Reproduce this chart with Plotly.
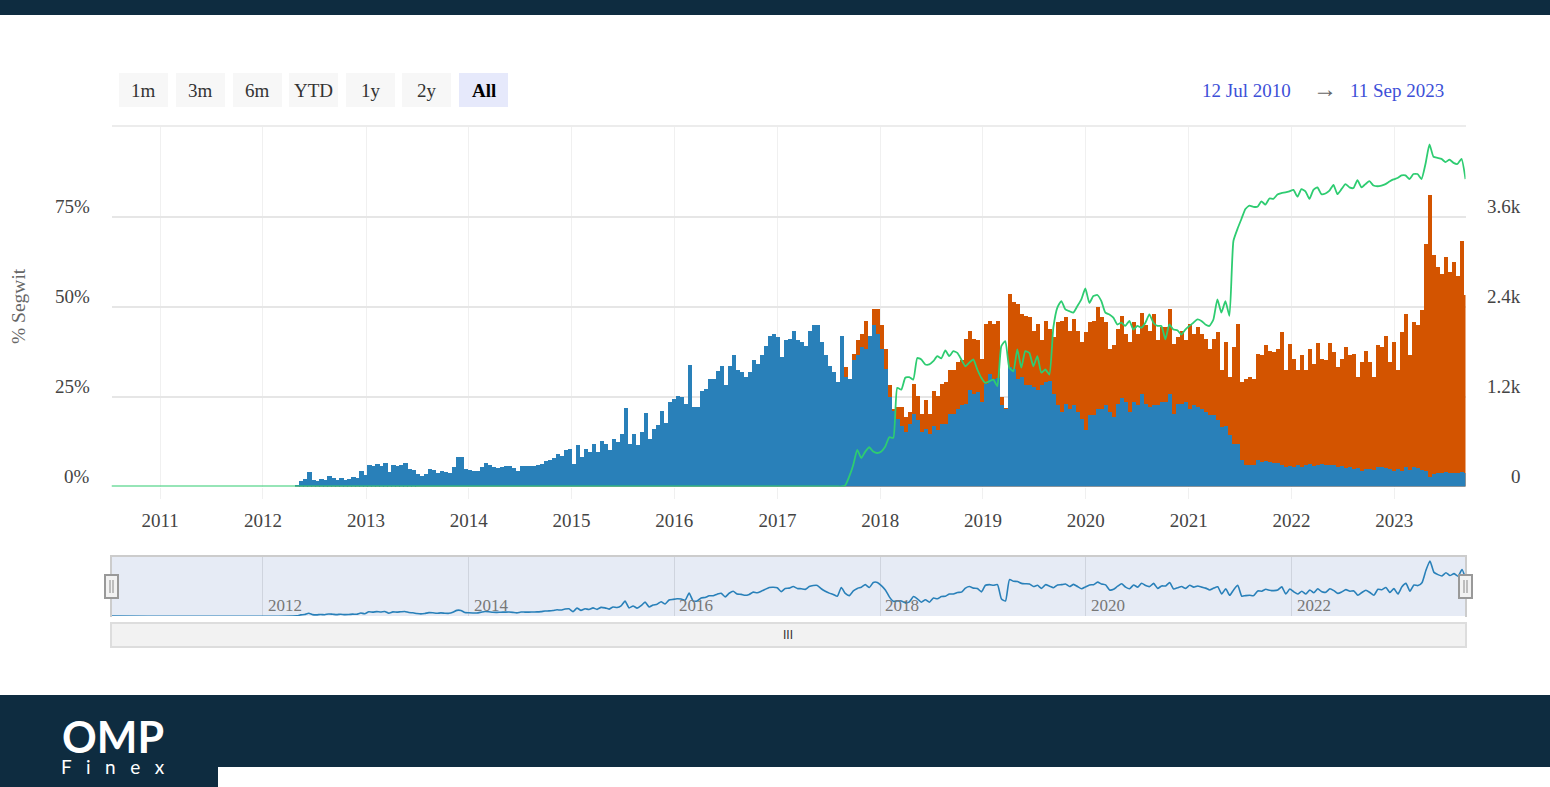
import pandas as pd
import plotly.graph_objects as go

W, H = 1550, 787
def px(v): return v / W
def py(v): return 1 - v / H

# transaction counts per two-week bucket
segwit_early = [15,80,105,195,95,80,110,90,145,125,100,125,95,105,130,125,210,160,300,275,310,285,315,200,290,275,300,320,245,225,180,150,180,240,225,190,220,200,190,265,400,395,245,225,215,215,265,320,300,265,255,270,275,285,255,220,285,275,275,285,290,310,350,360,385,440,420,490,510,310,555,400,510,465,575,470,610,575,490,640,600,710,1060,570,710,560,730,985,640,780,830,1010,850,1130,1180]
legacy_2016 = [1220,1200,1110,1630,1065,1065,1280,1310,1435,1435,1545,1610,1355,1610,1755,1555,1530,1465,1530,1690,1645,1755,1885,2020,2040,2000,1730,1955,1975,2085,1955,1930,1885,2085,2155,2165,1930,1755,1620,1530,1400,2020]
blue_2017 = [1465,1435,1690,1755,1865,1845,2020,2155,2040,1845,1575,1200,1020,910,820,730,845,975,890,730,775,710,820,755]
total_2017 = [1600,1445,1775,1955,2040,2220,2020,2375,2375,2155,1845,1355,1040,1065,1065,930,1000,1375,1220,975,1155,975,1275,1220]
blue_2018 = [845,845,975,975,1045,1090,1110,1290,1245,1265,1140,1375,1510,1445,1450,1090,1045,1600,1575,1445,1465,1355,1355,1330,1300,1355,1400,1420,1245,1090,1000,1110,1045,1090,1000,910,755,955,955,1045,1045,1090,1000,930,1110,1185,1130,1000,1130,1090,1245,1110,1065,1090,1090,1130,1130,1245,975,1110,1110,1130,1045,1090,1065,1045,1000]
total_2018 = [1375,1400,1555,1555,1665,1690,1975,2085,1975,1955,1710,2175,2220,2175,2220,1200,1060,2575,2465,2440,2310,2285,2265,2085,2175,1955,2220,2110,2000,2200,2220,2265,2085,2240,2085,1930,2065,2200,2220,2400,2265,2200,1845,1890,2110,2285,2045,1930,2200,2045,2325,2155,2085,2310,1955,2130,2130,2370,1910,2000,2085,1955,2175,2045,2130,2045,1975]
blue_2021 = [955,955,890,800,820,690,575,575,355,300,300,300,355,335,350,335,325,325,300,265,275,270,290,265,290,310,285,300,310,295,300,300,265,285,260,270,245,250,220,235,245,225,265,270,250,235,220,245,220,265,225,265,250,230,220,135,175,190,185,195,190,185,190,195,190]
total_2021 = [1845,1975,2065,1555,1930,1465,1865,2175,1400,1445,1465,1445,1775,1755,1890,1820,1800,1845,2065,1555,1910,1710,1555,1755,1555,1845,1645,1925,1710,1690,1925,1800,1600,1710,1865,1755,1775,1465,1665,1820,1665,1465,1890,1865,2020,1665,1940,1555,2065,2310,1755,2200,2155,2355,3240,3900,3090,2930,2840,3065,2865,3000,2820,3285,2555]

# share of segwit, percent
pct_2017 = [0.3,2.8,6.0,10.2,7.9,9.7,10.9,9.7,9.3,9.7,11.1,13.7,13.5,27.4,26.9,30.2,30.4,29.7,35.7,35.3,33.9,33.9,34.8,36.2]
pct_2018 = [35.6,37.8,36.2,37.6,37.1,35.3,33.4,34.4,35.3,32.5,30.2,28.8,29.2,29.7,27.9,39.0,40.4,33.0,32.0,38.1,33.0,37.6,37.1,33.4,36.2,31.6,32.5,31.1,44.1,49.7,51.5,49.2,48.7,48.3,50.1,52.0,55.0,51.0,52.9,53.2,51.5,48.3,47.8,46.9,45.0,45.5,44.6,46.0,43.6,44.6,44.1,45.5,47.8,45.5,44.6,44.6,40.9,45.0,43.6,43.4,42.2,43.6,44.6,45.5,46.4,46.0,45.0]
pct_2021 = [44.6,46.4,52.0,48.3,51.5,47.4,68.2,71.5,74.3,77.1,78.0,77.7,77.7,79.2,78.3,80.0,79.9,81.1,81.5,81.7,82.0,82.4,80.5,82.6,82.0,79.9,82.4,83.1,81.2,81.4,82.2,83.8,81.2,82.6,84.0,83.1,82.9,85.1,83.1,84.0,84.8,83.6,83.4,83.6,84.0,84.7,85.3,85.7,86.4,86.4,85.4,86.8,86.8,85.4,89.6,95.0,91.6,91.3,91.0,90.1,90.8,89.9,89.6,91.0,85.4]

range_start, range_end = "2010-07-12", "2023-09-11"
first_bucket = "2012-05-01"
left_ticks, left_labels = [0, 25, 50, 75], ["0%", "25%", "50%", "75%"]
right_ticks, right_labels = [0, 1200, 2400, 3600], ["0", "1.2k", "2.4k", "3.6k"]
nav_years = ["2012", "2014", "2016", "2018", "2020", "2022"]
buttons = ["1m", "3m", "6m", "YTD", "1y", "2y", "All"]

blue = segwit_early + legacy_2016 + blue_2017 + blue_2018 + blue_2021
early = segwit_early + legacy_2016
total = early + total_2017 + total_2018 + total_2021
pct = [0] * len(early) + pct_2017 + pct_2018 + pct_2021
assert len(blue) == len(total) == len(pct), (len(blue), len(total), len(pct))
dates = pd.date_range(first_bucket, range_end, periods=len(blue))
line_x = [pd.Timestamp(range_start)] + list(dates)

BLUE, ORANGE, GREEN, NAVY = "#2980b9", "#d35400", "#2ecc71", "#0e2c40"
SERIF = "Liberation Serif"
TXT = "#444444"
bar_w = 14.9 * 86400000

fig = go.Figure()
fig.add_bar(x=dates, y=total, width=bar_w, marker=dict(color=ORANGE, line_width=0), xaxis="x", yaxis="y", name="Non-segwit")
fig.add_bar(x=dates, y=blue, width=bar_w, marker=dict(color=BLUE, line_width=0), xaxis="x", yaxis="y", name="Segwit")
fig.add_scatter(x=line_x, y=[0] + pct, mode="lines", cliponaxis=False,
                line=dict(color=GREEN, width=1.8, shape="spline", smoothing=0.5), xaxis="x", yaxis="y2", name="% Segwit")
fig.add_scatter(x=line_x, y=[0] + total, mode="lines", cliponaxis=False,
                line=dict(color=BLUE, width=1.6, shape="spline", smoothing=0.5), xaxis="x2", yaxis="y3", name="Navigator")

shapes = []
def rect(x0, y0, x1, y1, fill, line=None, lw=0, layer="above"):
    shapes.append(dict(type="rect", xref="paper", yref="paper", x0=px(x0), x1=px(x1), y0=py(y0), y1=py(y1),
                       fillcolor=fill, line=dict(color=line or fill, width=lw), layer=layer))
def seg(x0, y0, x1, y1, color, lw=1, layer="above"):
    shapes.append(dict(type="line", xref="paper", yref="paper", x0=px(x0), x1=px(x1), y0=py(y0), y1=py(y1),
                       line=dict(color=color, width=lw), layer=layer))

rect(0, 0, W, 15, NAVY)
rect(0, 695, W, 767, NAVY)
rect(0, 767, 218, H, NAVY)
# top border of the plot area
seg(112, 126, 1466, 126, "#e6e6e6", 1.5, layer="below")
# navigator frame
rect(111, 556, 1466, 616, "#e6ebf5", layer="below")
seg(110, 556, 1467, 556, "#cccccc", 2)
seg(111, 555, 111, 617, "#cccccc", 2)
seg(1466, 555, 1466, 617, "#cccccc", 2)
# handles
for x0 in (105, 1459):
    rect(x0, 575, x0 + 13, 598, "#f2f2f2", "#999999", 2)
    seg(x0 + 5, 580, x0 + 5, 593, "#888888")
    seg(x0 + 8, 580, x0 + 8, 593, "#888888")
# scrollbar
rect(111, 623, 1466, 647, "#f2f2f2", "#dddddd", 2)

def note(x, y, text, size, color, font=SERIF, **kw):
    d = dict(x=px(x), y=py(y), xref="paper", yref="paper", text=text, showarrow=False,
             xanchor="center", yanchor="middle", font=dict(family=font, size=size, color=color))
    d.update(kw)
    return d

# range buttons
btn_x = [119, 176, 233, 289, 346, 402, 459]
ann = []
for b, x0 in zip(buttons, btn_x):
    active = b == "All"
    rect(x0, 73, x0 + 49, 107, "#e6e9fb" if active else "#f7f7f7")
    ann.append(note(x0 + 24.5, 90.5, f"<b>{b}</b>" if active else b, 19, "#000000" if active else "#333333"))

for t, l in zip(left_ticks, left_labels):
    ann.append(dict(x=px(92), xref="paper", y=t, yref="y2", yshift=10, text=l, xanchor="right", yanchor="middle",
                    showarrow=False, font=dict(family=SERIF, size=19, color=TXT)))
for t, l in zip(right_ticks, right_labels):
    ann.append(dict(x=px(1523), xref="paper", y=t, yref="y", yshift=10, text=l, xanchor="right", yanchor="middle",
                    showarrow=False, font=dict(family=SERIF, size=19, color=TXT)))
for y in nav_years:
    ann.append(dict(x=f"{y}-01-01", xref="x2", y=py(605), yref="paper", xshift=3, text=y, xanchor="left", yanchor="middle",
                    showarrow=False, font=dict(family=SERIF, size=17, color="#777777")))
ann += [
    note(18, 306, "% Segwit", 19.5, "#666666", textangle=-90),
    note(1246.5, 90, "12 Jul 2010", 19, "#3d50d8"),
    note(1325, 89, "→", 24, "#666666"),
    note(1397, 90, "11 Sep 2023", 19, "#3d50d8"),
    note(788, 635, "III", 12, "#333333", font="Liberation Sans"),
    note(113, 736, "<b>OMP</b>", 43, "#ffffff", font="Lato", height=38),
    note(113, 766, "F\u00a0\u00a0\u00a0i\u00a0\u00a0\u00a0n\u00a0\u00a0\u00a0e\u00a0\u00a0\u00a0x", 19, "#ffffff", font="Lato"),
]

fig.update_layout(
    width=W, height=H, autosize=False, margin=dict(l=0, r=0, t=0, b=0),
    paper_bgcolor="#ffffff", plot_bgcolor="rgba(0,0,0,0)", barmode="overlay", bargap=0, showlegend=False,
    shapes=shapes, annotations=ann,
    xaxis=dict(domain=[px(111.5), px(1465.5)], range=[range_start, range_end], type="date", anchor="y",
               dtick="M12", tick0="2011-01-01", tickformat="%Y", showgrid=True, gridcolor="#f0f0f0", gridwidth=1,
               ticks="outside", ticklen=11, tickcolor="#f0f0f0", ticklabelstandoff=6, showline=False, zeroline=False,
               tickfont=dict(family=SERIF, size=19, color=TXT)),
    yaxis=dict(domain=[py(486.5), py(126.5)], range=[0, 4800], anchor="x", side="right", tickvals=[0, 1200, 2400, 3600],
               showticklabels=False, ticks="", showgrid=True, gridcolor="#e6e6e6", gridwidth=1.5, zeroline=False),
    yaxis2=dict(range=[0, 100], overlaying="y", side="left", anchor="x", showticklabels=False, ticks="",
                showgrid=False, zeroline=False),
    xaxis2=dict(domain=[px(111), px(1466)], range=[range_start, range_end], type="date", anchor="y3",
                dtick="M24", tick0="2012-01-01", showticklabels=False, ticks="", showgrid=True,
                gridcolor="#cfd4de", gridwidth=1, zeroline=False),
    yaxis3=dict(domain=[py(616), py(556)], range=[0, 4250], anchor="x2", showticklabels=False, ticks="",
                showgrid=False, zeroline=False),
)
fig.write_html("out.html", config={"displayModeBar": False},
               post_script="document.body.style.margin='0';document.documentElement.style.overflow='hidden';window.dispatchEvent(new Event('resize'));")
